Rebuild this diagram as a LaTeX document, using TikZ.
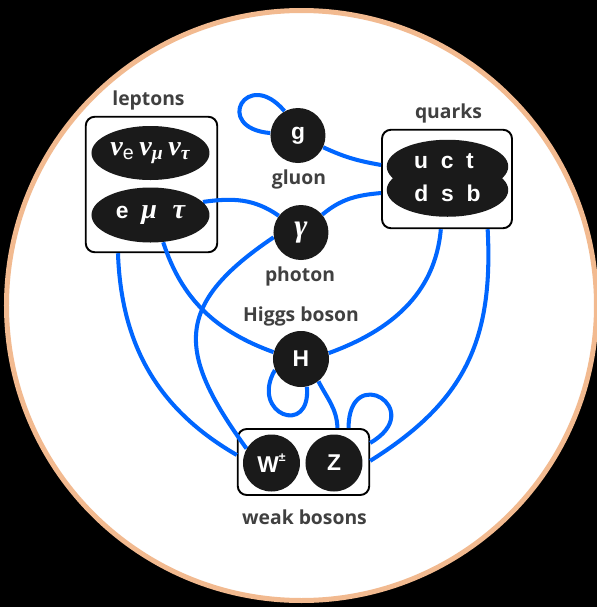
\documentclass[tikz,border=0pt]{standalone}
\usepackage{fontspec}
\setmainfont{Open Sans}
\setsansfont{Liberation Sans}
\newfontfamily\greekfont{Liberation Serif}
\newcommand\gk[1]{{\greekfont\bfseries\itshape #1}}
\usetikzlibrary{shapes.geometric}
\definecolor{linkblue}{RGB}{0,102,255}
\definecolor{rimorange}{RGB}{242,186,144}
\definecolor{labelgray}{RGB}{64,64,64}
\definecolor{blobblack}{RGB}{26,26,26}
\pgfdeclarelayer{bg}
\pgfdeclarelayer{mid}
\pgfsetlayers{bg,mid,main}
\tikzset{
  boson/.style={circle, fill=blobblack, text=white, minimum size=1.12cm, inner sep=0pt,
    font=\sffamily\bfseries\fontsize{13}{15}\selectfont},
  blob/.style={ellipse, fill=blobblack, text=white, minimum width=2.36cm, minimum height=1.08cm,
    inner sep=0pt, font=\sffamily\bfseries\fontsize{13}{15}\selectfont},
  letters/.style={text=white, inner sep=0pt, font=\sffamily\bfseries\fontsize{13}{15}\selectfont},
  group/.style={draw=black, fill=white, line width=1.1pt, rounded corners=0.18cm, inner sep=0pt},
  caption/.style={text=labelgray, font=\bfseries\fontsize{11}{13}\selectfont},
  link/.style={draw=linkblue, line width=2.3pt},
}
\begin{document}
\begin{tikzpicture}
  \useasboundingbox (-6.03,-6.03) rectangle (5.91,6.11);
  \begin{pgfonlayer}{bg}
    \fill[black] (-6.03,-6.03) rectangle (5.91,6.11);
    \draw[rimorange, fill=white, line width=0.1cm] (0,0) circle (5.9);
    \node[group, minimum width=2.63cm, minimum height=2.71cm] (lepbox) at (-3.0,2.42) {};
    \node[group, minimum width=2.6cm, minimum height=1.97cm] (qbox) at (2.91,2.53) {};
    \node[group, minimum width=2.63cm, minimum height=1.32cm] (wbox) at (0.04,-3.13) {};
  \end{pgfonlayer}

  \node[blob, font=\fontsize{16}{18}\selectfont] (nu) at (-3.02,3.05)
    {\gk{ν}\textsubscript{\sffamily e}\,\gk{ν}\textsubscript{\gk{μ}}\,\gk{ν}\textsubscript{\gk{τ}}};
  \node[blob, minimum height=1.1cm] (lep) at (-3.02,1.81)
    {e~~{\fontsize{16}{18}\selectfont\gk{μ}~~\gk{τ}}};
  \node[blob, minimum width=2.43cm, minimum height=1.07cm] (qup) at (2.92,2.78) {};
  \node[blob, minimum width=2.43cm, minimum height=1.07cm] (qdown) at (2.92,2.31) {};
  \node[letters] (uct) at (2.85,2.89) {u~~c~~t};
  \node[letters] (dsb) at (2.92,2.24) {d~~s~~b};

  \node[boson, minimum size=1.1cm] (g) at (-0.07,3.4) {g};
  \node[boson, minimum size=1.1cm, font=\fontsize{18}{20}\selectfont] (gam) at (-0.01,1.46) {\gk{γ}};
  \node[boson] (H) at (-0.01,-1.07) {H};
  \node[boson, minimum size=1.14cm] (W) at (-0.6,-3.15)
    {W\raisebox{0.9ex}{\fontsize{7}{8}\selectfont ±}};
  \node[boson, minimum size=1.14cm] (Z) at (0.65,-3.15) {Z};

  \node[caption] (leptons) at (-3.06,4.11) {leptons};
  \node[caption] (quarks) at (2.94,3.85) {quarks};
  \node[caption] (gluon) at (-0.05,2.53) {gluon};
  \node[caption] (photon) at (-0.03,0.59) {photon};
  \node[caption] (higgs) at (-0.01,-0.21) {Higgs boson};
  \node[caption] (weak) at (0.06,-4.23) {weak bosons};

  \begin{pgfonlayer}{mid}
    \draw[link] (g.175) to[out=175,in=130,looseness=5.7] (g.119);
    \draw[link] (g.-25) to[out=-25,in=170] (qbox.168);
    \draw[link] (lep.14) to[out=8,in=145] (gam.143);
    \draw[link] (gam.40) to[out=40,in=185] (qbox.192);
    \draw[link] (gam.190) to[out=214,in=126,looseness=1.44] (W.150);
    \draw[link] (lep.-65) to[out=-72,in=160] (H.166);
    \draw[link] (lepbox.244) to[out=-88,in=150] (wbox.174);
    \draw[link] (qbox.263) to[out=-95,in=20] (H.12);
    \draw[link] (qbox.-51) to[out=-87,in=32,looseness=1.1] (wbox.1);
    \draw[link] (H.203) to[out=240,in=-85,looseness=3.6] (H.-78);
    \draw[link] (H.-52) to[out=-63,in=92] (wbox.45);
    \draw[link] (wbox.37) to[out=90,in=30,looseness=6.5] (wbox.16);
  \end{pgfonlayer}
\end{tikzpicture}
\end{document}
